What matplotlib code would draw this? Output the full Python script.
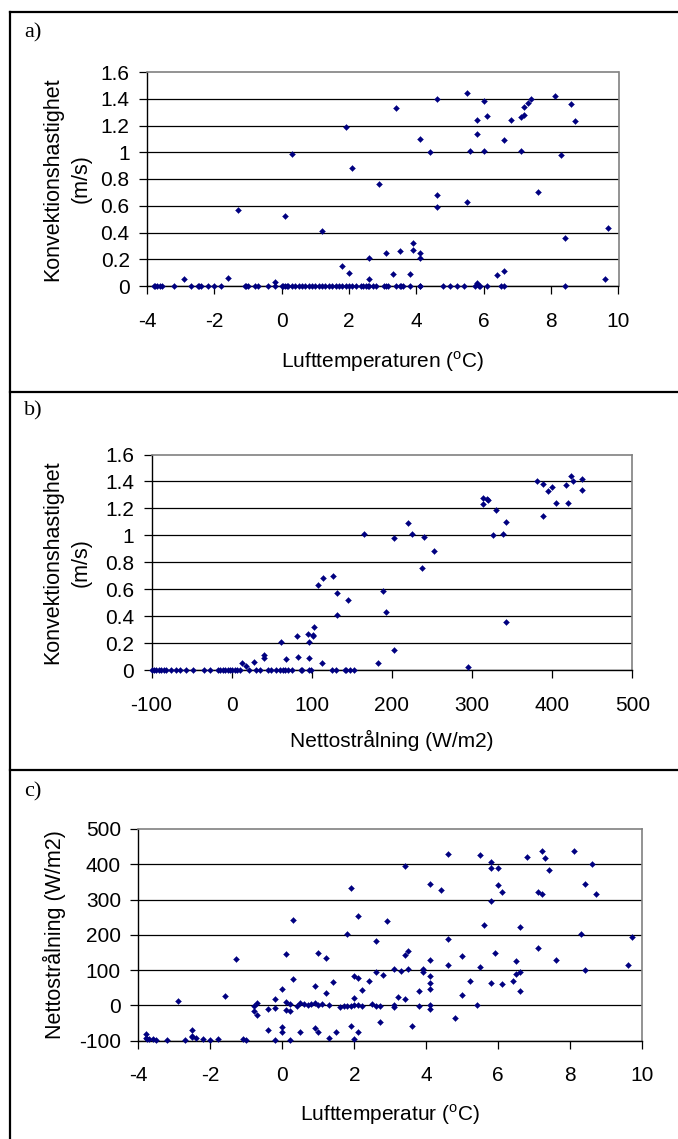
import numpy as np
import matplotlib.pyplot as plt
from matplotlib.lines import Line2D
from matplotlib.ticker import FuncFormatter

plt.rcParams['font.family'] = ['Liberation Sans', 'DejaVu Sans']
plt.rcParams['axes.unicode_minus'] = False
plt.rcParams['mathtext.fontset'] = 'custom'
plt.rcParams['mathtext.rm'] = 'Liberation Sans'

# a) lufttemperatur vs konvektionshastighet
temp_a = [-2.9, -1.6, -1.3, -0.2, 0.1, 0.3, 1.2, 1.8, 1.9, 2.0, 2.1, 2.6, 2.6, 2.9,
          3.1, 3.3, 3.4, 3.5, 3.8, 3.9, 3.9, 4.1, 4.1, 4.1, 4.4, 4.6, 4.6, 4.6,
          5.5, 5.5, 5.6, 5.8, 5.8, 5.8, 6.0, 6.0, 6.1, 6.4, 6.6, 6.6, 6.8, 7.1,
          7.1, 7.2, 7.2, 7.3, 7.4, 7.6, 8.1, 8.3, 8.4, 8.6, 8.7, 9.6, 9.7]
conv_a = [0.05, 0.06, 0.57, 0.03, 0.52, 0.99, 0.41, 0.15, 1.19, 0.10, 0.88, 0.21, 0.05, 0.76,
          0.25, 0.09, 1.33, 0.26, 0.09, 0.32, 0.27, 0.25, 0.21, 1.10, 1.00, 1.40, 0.68, 0.59,
          1.44, 0.63, 1.01, 1.24, 1.14, 0.02, 1.38, 1.01, 1.27, 0.08, 1.09, 0.11, 1.24, 1.26,
          1.01, 1.28, 1.34, 1.37, 1.40, 0.70, 1.42, 0.98, 0.36, 1.36, 1.23, 0.05, 0.43]
# temperatures where the convection speed was 0
temp_a_still = [-3.8, -3.75, -3.7, -3.6, -3.55, -3.2, -2.7, -2.5, -2.45, -2.4, -2.2, -2.0,
                -1.8, -1.1, -1.05, -1.0, -0.8, -0.7, -0.4, -0.2, 0.0, 0.05, 0.1, 0.15, 0.2,
                0.3, 0.4, 0.5, 0.6, 0.7, 0.8, 0.9, 1.0, 1.1, 1.2, 1.3, 1.4, 1.5, 1.6, 1.7,
                1.8, 1.9, 2.0, 2.1, 2.2, 2.35, 2.4, 2.5, 2.55, 2.6, 2.7, 2.8, 3.05, 3.1,
                3.15, 3.4, 3.5, 3.55, 3.6, 3.8, 4.1, 4.1, 4.8, 5.0, 5.2, 5.4, 5.75, 5.85,
                5.9, 6.1, 6.5, 6.6, 8.4]

# b) nettostrålning vs konvektionshastighet
rad_b = [13, 18, 28, 41, 41, 62, 68, 81, 83, 95, 96, 97, 102, 102, 103, 108, 113, 114,
         127, 132, 132, 145, 165, 183, 189, 193, 202, 202, 220, 225, 237, 240, 252, 295,
         314, 314, 319, 320, 326, 330, 339, 342, 342, 381, 388, 388, 395, 400, 405, 417,
         420, 424, 426, 437, 437]
conv_b = [0.05, 0.03, 0.06, 0.11, 0.09, 0.21, 0.08, 0.25, 0.10, 0.27, 0.21, 0.09, 0.26, 0.25,
          0.32, 0.63, 0.05, 0.68, 0.70, 0.57, 0.41, 0.52, 1.01, 0.05, 0.59, 0.43, 0.15, 0.98,
          1.09, 1.01, 0.76, 0.99, 0.88, 0.02, 1.28, 1.23, 1.27, 1.26, 1.00, 1.19, 1.01, 1.10,
          0.36, 1.40, 1.38, 1.14, 1.33, 1.36, 1.24, 1.37, 1.24, 1.44, 1.40, 1.42, 1.34]
rad_b_still = [-100, -97, -94, -91, -88, -85, -82, -76, -70, -64, -57, -48, -35, -27,
               -17, -14, -11, -8, -5, -2, 1, 4, 7, 10, 22, 30, 35, 46, 49, 55, 60, 64,
               67, 70, 75, 86, 88, 96, 99, 125, 130, 141, 143, 148, 153]

# c) lufttemperatur vs nettostrålning
temp_c = [-3.8, -3.8, -3.75, -3.7, -3.6, -3.5, -3.2, -2.9, -2.7, -2.5, -2.5, -2.5, -2.4,
          -2.2, -2.0, -1.8, -1.6, -1.3, -1.1, -1.0, -0.8, -0.8, -0.7, -0.7, -0.4, -0.4,
          -0.2, -0.2, -0.2, 0.0, 0.0, 0.0, 0.1, 0.1, 0.1, 0.2, 0.2, 0.2, 0.3, 0.3, 0.4,
          0.5, 0.5, 0.6, 0.7, 0.8, 0.9, 0.9, 0.9, 1.0, 1.0, 1.0, 1.1, 1.2, 1.2, 1.3, 1.3,
          1.4, 1.5, 1.6, 1.7, 1.8, 1.8, 1.9, 1.9, 1.9, 2.0, 2.0, 2.0, 2.0, 2.1, 2.1, 2.1,
          2.1, 2.2, 2.2, 2.4, 2.5, 2.6, 2.6, 2.6, 2.7, 2.7, 2.8, 2.9,
          3.1, 3.1, 3.1, 3.2, 3.3, 3.4, 3.4, 3.4, 3.5, 3.5, 3.6, 3.8, 3.8, 3.9, 3.9, 4.1,
          4.1, 4.1, 4.1, 4.1, 4.1, 4.1, 4.4, 4.6, 4.6, 4.6, 4.8, 5.0, 5.0, 5.2, 5.4, 5.5,
          5.5, 5.6, 5.8, 5.8, 5.8, 5.8, 5.9, 6.0, 6.0, 6.1, 6.1, 6.4, 6.5, 6.5, 6.6, 6.6,
          6.6, 6.8, 7.1, 7.1, 7.2, 7.2, 7.3, 7.4, 7.6, 8.1, 8.3, 8.4, 8.4, 8.6, 8.7, 9.6,
          9.7]
rad_c = [-82, -93, -96, -95, -96, -97, -97, 13, -97, -69, -86, -90, -92,
         -94, -98, -94, 28, 132, -95, -98, -3, -17, 7, -27, -9, -69,
         19, -6, -97, 47, -61, -76, 146, 9, -12, 4, -15, -97, 242, 75, -1,
         6, -75, 4, 1, 4, 6, 56, -63, 2, 149, -75, 4, 133, 36, 1, -93,
         66, -75, -4, -1, 203, -1, -1, -57, 333, 84, 21, -95, 0, 253, 77, 1,
         -76, 45, -1, 68, 5, 183, 96, -1, -47, -2, 86, 239,
         103, 0, -5, 24, 98, 18, 396, 144, 154, 103, -57, 41, -1, 104, 94, 344,
         129, 82, 63, 47, 0, -10, 327, 428, 189, 114, -35, 141, 30, 70, 0, 426,
         109, 227, 406, 389, 296, 64, 148, 389, 340, 321, 60, 68, 125, 89, 96, 221,
         42, 421, 322, 164, 438, 315, 418, 383, 128, 438, 203, 344, 99, 402, 316, 114,
         194]

temp_ticks = [-4, -2, 0, 2, 4, 6, 8, 10]
rad_ticks = [-100, 0, 100, 200, 300, 400, 500]
conv_ticks = [0, 0.2, 0.4, 0.6, 0.8, 1.0, 1.2, 1.4, 1.6]

W, H = 678, 1139
navy = '#000080'


def place(l, t, r, b):
    return fig.add_axes([l / W, 1 - b / H, (r - l) / W, (b - t) / H])


def style(ax, xticks, yticks):
    ax.set_xlim(xticks[0], xticks[-1])
    ax.set_ylim(yticks[0], yticks[-1])
    ax.set_xticks(xticks)
    ax.set_yticks(yticks)
    fmt = FuncFormatter(lambda v, p: f'{v:g}')
    ax.xaxis.set_major_formatter(fmt)
    ax.yaxis.set_major_formatter(fmt)
    ax.set_axisbelow(True)
    ax.yaxis.grid(True, color='black', lw=0.9)
    ax.get_ygridlines()[-1].set_visible(False)
    for s in ['top', 'right']:
        ax.spines[s].set_color('#808080')
        ax.spines[s].set_linewidth(1.2)
    for s in ['left', 'bottom']:
        ax.spines[s].set_color('black')
        ax.spines[s].set_linewidth(1.0)
    ax.tick_params(direction='out', length=5.5, width=0.9, labelsize=15)
    ax.tick_params(axis='x', pad=13)
    ax.tick_params(axis='y', pad=7)


def dots(ax, x, y):
    ax.plot(x, y, 'D', ms=3.0, color=navy, mew=0.3, clip_on=False, zorder=3)


fig = plt.figure(figsize=(W / 100, H / 100), dpi=100)

ax1 = place(147, 72, 618.5, 286)
style(ax1, temp_ticks, conv_ticks)
dots(ax1, temp_a_still, np.zeros(len(temp_a_still)))
dots(ax1, temp_a, conv_a)
ax1.set_xlabel(r'Lufttemperaturen ($^{\rm o}$C)', fontsize=15)
ax1.xaxis.label.set_verticalalignment('center')
ax1.xaxis.set_label_coords(0.5, -0.355)
ax1.set_ylabel('Konvektionshastighet\n(m/s)', fontsize=15.5, linespacing=1.45)
ax1.yaxis.label.set_verticalalignment('center')
ax1.yaxis.set_label_coords(-0.17, 0.5)

ax2 = place(151.5, 454.5, 632.3, 670)
style(ax2, rad_ticks, conv_ticks)
dots(ax2, rad_b_still, np.zeros(len(rad_b_still)))
dots(ax2, rad_b, conv_b)
ax2.set_xlabel('Nettostrålning (W/m2)', fontsize=15)
ax2.xaxis.label.set_verticalalignment('center')
ax2.xaxis.set_label_coords(0.5, -0.325)
ax2.set_ylabel('Konvektionshastighet\n(m/s)', fontsize=15.5, linespacing=1.45)
ax2.yaxis.label.set_verticalalignment('center')
ax2.yaxis.set_label_coords(-0.176, 0.5)

ax3 = place(138.3, 829, 642.3, 1040.7)
style(ax3, temp_ticks, rad_ticks)
dots(ax3, temp_c, rad_c)
ax3.set_xlabel(r'Lufttemperatur ($^{\rm o}$C)', fontsize=15)
ax3.xaxis.label.set_verticalalignment('center')
ax3.xaxis.set_label_coords(0.5, -0.351)
ax3.set_ylabel('Nettostrålning (W/m2)', fontsize=15.5)
ax3.yaxis.label.set_verticalalignment('center')
ax3.yaxis.set_label_coords(-0.167, 0.5)

# panel frames
for y in [12, 392, 770]:
    fig.add_artist(Line2D([9.5 / W, 1], [1 - y / H] * 2, color='black', lw=1.6))
fig.add_artist(Line2D([9.5 / W] * 2, [1 - 12 / H, 0], color='black', lw=1.6))

for lab, y in [('a)', 33), ('b)', 411), ('c)', 792)]:
    fig.text(24 / W, 1 - y / H, lab, family='Liberation Serif', fontsize=16, va='center')

fig.savefig('out.png', dpi=100)
